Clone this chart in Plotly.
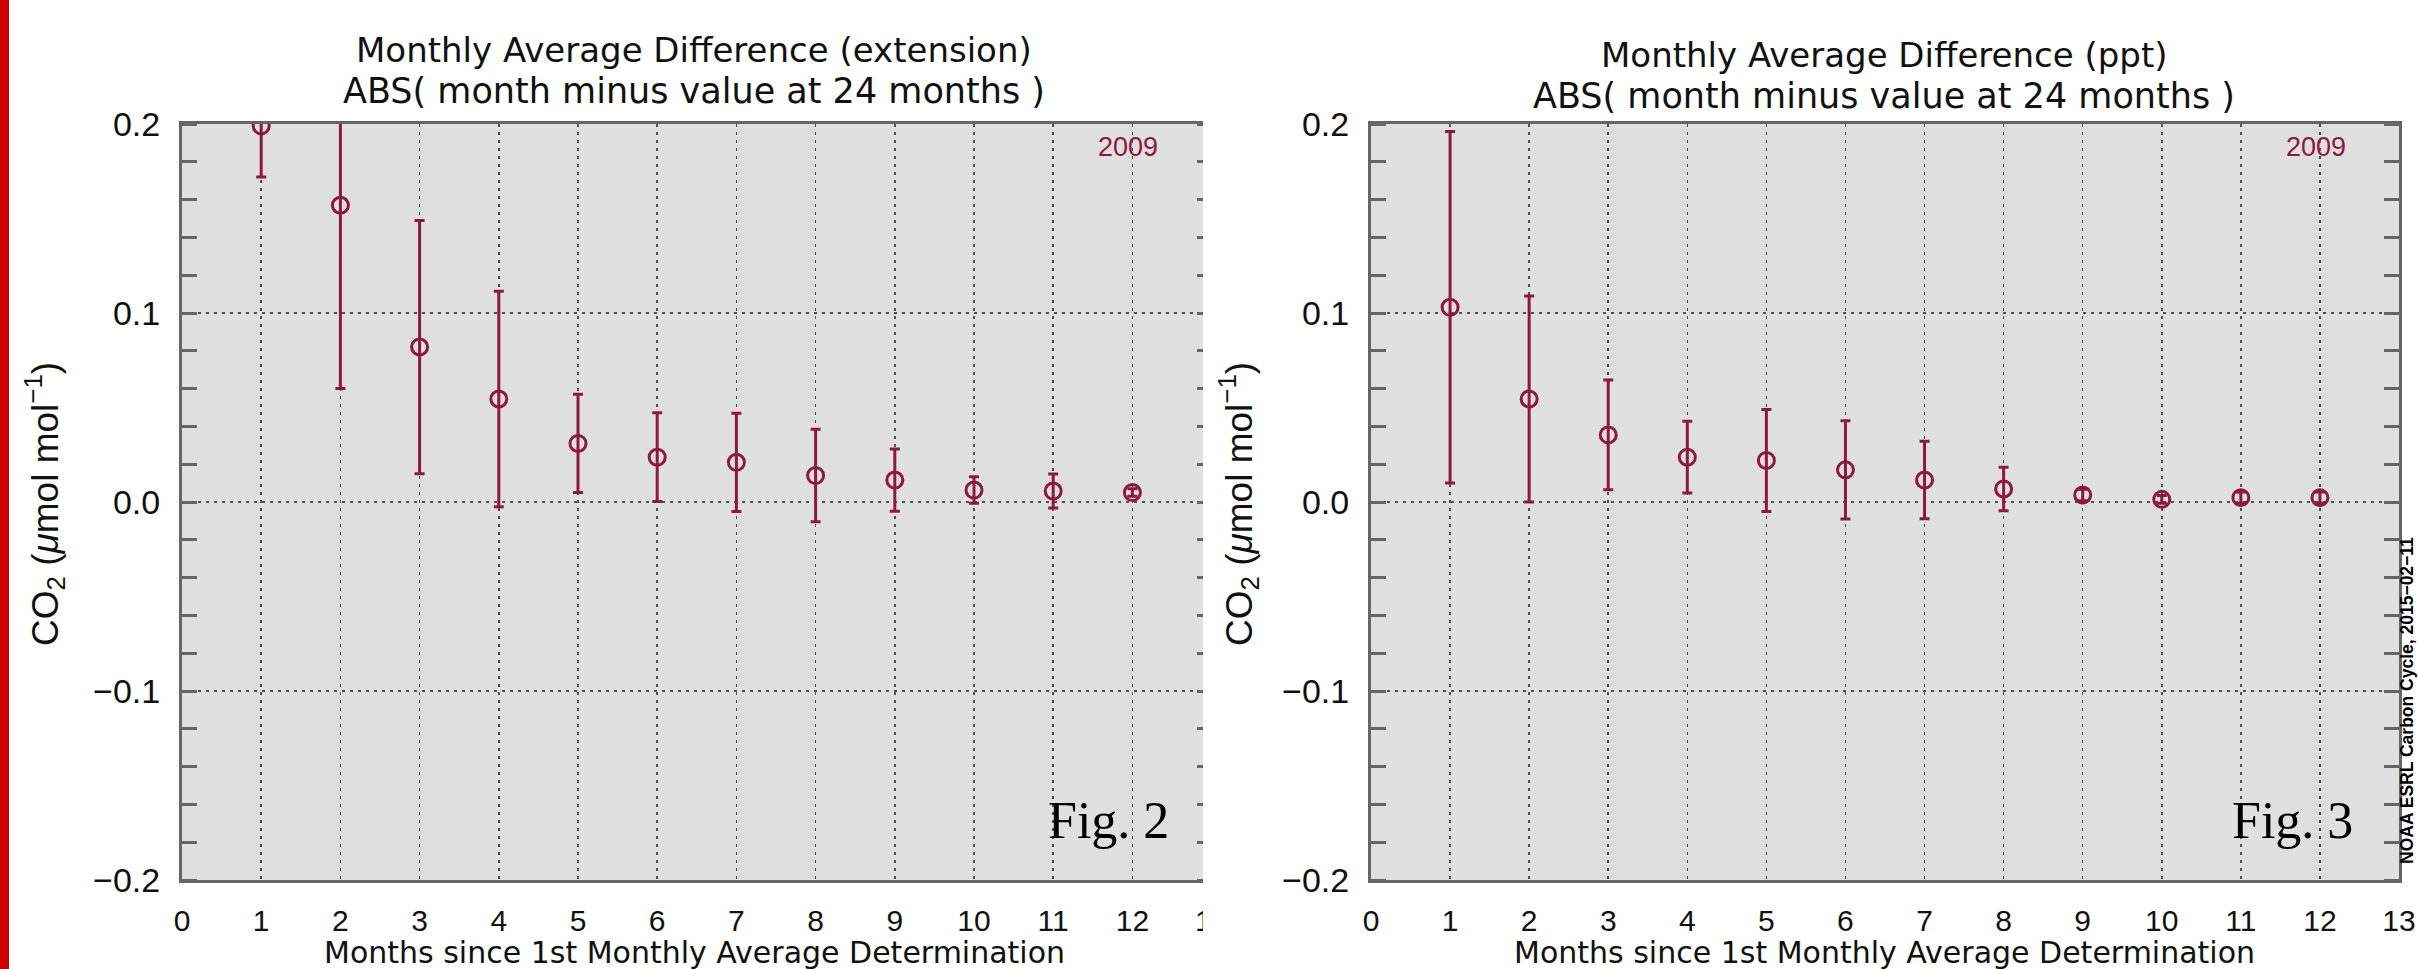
import plotly.graph_objects as go

W, H = 2418, 969

months = [1, 2, 3, 4, 5, 6, 7, 8, 9, 10, 11, 12]
ext_vals = [0.199, 0.157, 0.082, 0.0545, 0.031, 0.0237, 0.021, 0.014, 0.0116, 0.0063, 0.0058, 0.005]
ext_err = [0.027, 0.097, 0.067, 0.057, 0.026, 0.0235, 0.026, 0.0245, 0.0165, 0.007, 0.009, 0.002]
ppt_vals = [0.103, 0.0545, 0.0355, 0.0237, 0.022, 0.017, 0.0116, 0.0069, 0.0037, 0.0014, 0.0023, 0.0023]
ppt_err = [0.093, 0.0545, 0.029, 0.019, 0.027, 0.026, 0.0205, 0.0115, 0.003, 0.002, 0.003, 0.003]
x_ticks = list(range(0, 14))
y_ticks = [-0.2, -0.1, 0.0, 0.1, 0.2]
y_ticklabels = ["\u22120.2", "\u22120.1", "0.0", "0.1", "0.2"]

titles_left = ["Monthly Average Difference (extension)", "ABS( month minus value at 24 months )"]
titles_right = ["Monthly Average Difference (ppt)", "ABS( month minus value at 24 months )"]
xtitle = "Months since 1st Monthly Average Determination"
ytitle = "CO<sub>2</sub> (<i>\u03bc</i>mol mol<sup>\u22121</sup>)"
year_label = "2009"

MAROON = "#8c1a40"
FRAME = "#666666"
GRID = "#505050"
BG = "#e0e0e0"


def px_x(p):
    return p / W


def px_y(p):
    return 1 - p / H


fig = go.Figure()

for vals, errs, xa, ya in [(ext_vals, ext_err, "x", "y"), (ppt_vals, ppt_err, "x2", "y2")]:
    fig.add_trace(go.Scatter(
        x=months, y=vals, xaxis=xa, yaxis=ya, mode="markers",
        marker=dict(symbol="circle-open", size=16, color=MAROON, line=dict(width=3, color=MAROON)),
        error_y=dict(type="data", array=errs, visible=True, color=MAROON, thickness=3, width=5),
        showlegend=False, hoverinfo="skip",
    ))

ydom = [px_y(880), px_y(124)]
xaxis_common = dict(
    range=[0, 13], tickmode="array", tickvals=x_ticks, ticktext=[str(v) for v in x_ticks],
    showgrid=True, gridcolor=GRID, gridwidth=1.5, griddash="3px,5px",
    showline=True, linecolor=FRAME, linewidth=3, mirror=True, ticks="",
    tickfont=dict(family="Liberation Sans, Arial", size=30, color="#111111"),
    ticklabelstandoff=12, zeroline=False, fixedrange=True, automargin=False,
)
yaxis_common = dict(
    range=[-0.2, 0.2], tickmode="array", tickvals=y_ticks, ticktext=y_ticklabels,
    showgrid=True, gridcolor=GRID, gridwidth=1.5, griddash="3px,5px",
    showline=True, linecolor=FRAME, linewidth=3, mirror="allticks", ticks="",
    minor=dict(ticks="inside", dtick=0.02, tick0=0, ticklen=15, tickwidth=3, tickcolor=FRAME, showgrid=False),
    tickfont=dict(family="Liberation Sans, Arial", size=34, color="#111111"),
    ticklabelstandoff=12, zeroline=False, fixedrange=True, domain=ydom, automargin=False,
)

fig.update_layout(
    width=W, height=H, margin=dict(l=0, r=0, t=0, b=0, pad=0), autosize=False,
    paper_bgcolor="white", plot_bgcolor=BG,
    xaxis=dict(domain=[px_x(182), px_x(182 + 13 * 79.2)], anchor="y", **xaxis_common),
    yaxis=dict(anchor="x", **yaxis_common),
    xaxis2=dict(domain=[px_x(1371), px_x(2399)], anchor="y2", **xaxis_common),
    yaxis2=dict(anchor="x2", **yaxis_common),
)

ann = []
for cx, ys, lines in [(694, (50, 91), titles_left), (1884, (55, 96), titles_right)]:
    for yy, t, fs in zip(ys, lines, (34, 35)):
        ann.append(dict(text=t, xref="paper", yref="paper", x=px_x(cx), y=px_y(yy),
                        xanchor="center", yanchor="middle", showarrow=False,
                        font=dict(family="DejaVu Sans", size=fs, color="#111111")))
    ann.append(dict(text=xtitle, xref="paper", yref="paper", x=px_x(cx), y=px_y(952),
                    xanchor="center", yanchor="middle", showarrow=False,
                    font=dict(family="DejaVu Sans", size=30, color="#111111")))
for cx in (44, 1238):
    ann.append(dict(text=ytitle, xref="paper", yref="paper", x=px_x(cx), y=px_y(504),
                    xanchor="center", yanchor="middle", showarrow=False, textangle=-90,
                    font=dict(family="Liberation Sans, Arial", size=37, color="#111111")))
for xr, yr in (("x", "y"), ("x2", "y2")):
    ann.append(dict(text=year_label, xref=xr, yref=yr, x=11.95, y=0.188,
                    xanchor="center", yanchor="middle", showarrow=False,
                    font=dict(family="Liberation Sans, Arial", size=27, color=MAROON)))
for cx, t in ((1108, "Fig. 2"), (2292, "Fig. 3")):
    ann.append(dict(text=t, xref="paper", yref="paper", x=px_x(cx), y=px_y(820),
                    xanchor="center", yanchor="middle", showarrow=False,
                    font=dict(family="Liberation Serif, Times New Roman", size=52, color="black")))
ann.append(dict(text="<b>NOAA ESRL Carbon Cycle, 2015\u221202\u221211</b>", xref="paper", yref="paper",
                x=px_x(2407), y=px_y(701), xanchor="center", yanchor="middle", showarrow=False,
                textangle=-90, font=dict(family="Liberation Sans, Arial", size=17.5, color="black")))
fig.update_layout(annotations=ann)

shapes = [
    # white mask where the left panel image is cropped
    dict(type="rect", xref="paper", yref="paper", x0=px_x(1203), x1=px_x(1268), y0=0, y1=1,
         fillcolor="white", line=dict(width=0), layer="above"),
    # red bar on the left edge
    dict(type="rect", xref="paper", yref="paper", x0=0, x1=px_x(9), y0=0, y1=1,
         fillcolor="#cc0000", line=dict(width=0), layer="above"),
]
fig.update_layout(shapes=shapes)

fig.write_html(
    "out.html",
    config={"displayModeBar": False, "staticPlot": True},
    post_script="document.body.style.margin='0';document.body.style.padding='0';document.body.style.overflow='hidden';",
)
